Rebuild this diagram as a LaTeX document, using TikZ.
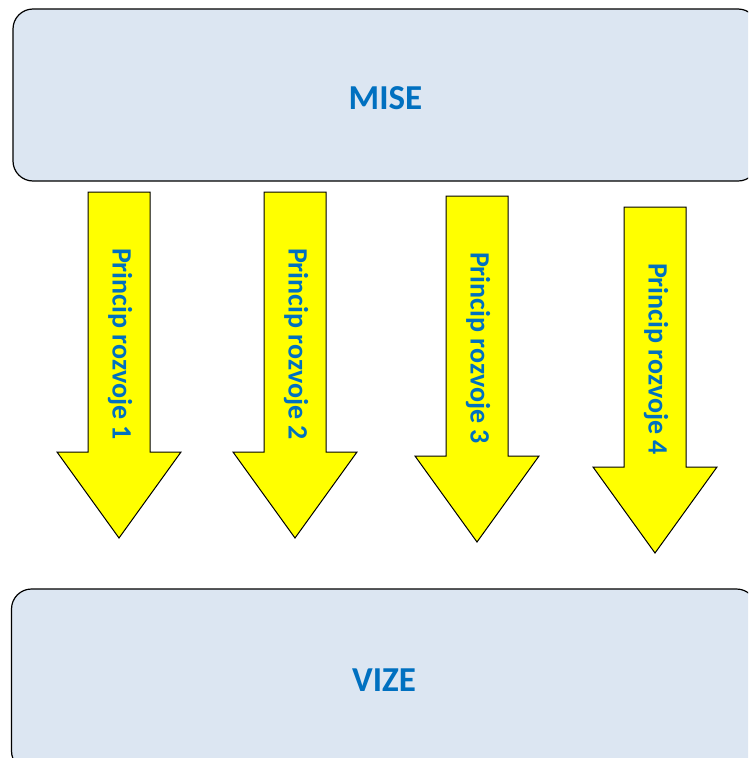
\documentclass[tikz,border=0pt]{standalone}
\usepackage{fontspec}
\setmainfont{Carlito}
\usetikzlibrary{positioning}
\definecolor{boxblue}{HTML}{DCE6F2}
\definecolor{textblue}{HTML}{0070C0}
\definecolor{arrowyellow}{HTML}{FFFF00}
\tikzset{
	panel/.style = {draw, line width = 1.2pt, fill = boxblue, rounded corners = 20pt, minimum width = 745pt, text = textblue, font = \fontsize{35}{40}\selectfont\bfseries},
	downarrow/.style = {draw, line width = 1pt, fill = arrowyellow},
	arrowtext/.style = {text = textblue, font = \fontsize{28}{32}\selectfont\bfseries, rotate = -90, inner sep = 0pt}
}
\begin{document}
\begin{tikzpicture}[x = 1pt, y = -1pt]
		\useasboundingbox (0, 0) rectangle (748, 758);
		\clip (0, 0) rectangle (748, 758);

		\node [panel, minimum height = 172pt, text height = 28pt, text depth = 0pt] (mise) at (385.5, 95) {MISE};
		\node [panel, minimum height = 182pt] (vize) at (384, 680) {VIZE};

		\foreach \x/\top/\n in {119/192/1, 295/192/2, 477/196/3, 655/207/4}
		{
			\draw [downarrow] (\x-31, \top) -- (\x+31, \top) -- (\x+31, \top+260) -- (\x+62, \top+260)
				-- (\x, \top+346) coordinate (tip\n) -- (\x-62, \top+260) -- (\x-31, \top+260) -- cycle;
			\node [arrowtext] (princip\n) at (\x+1, \top+152) {Princip rozvoje \n};
		}
	\end{tikzpicture}
\end{document}
